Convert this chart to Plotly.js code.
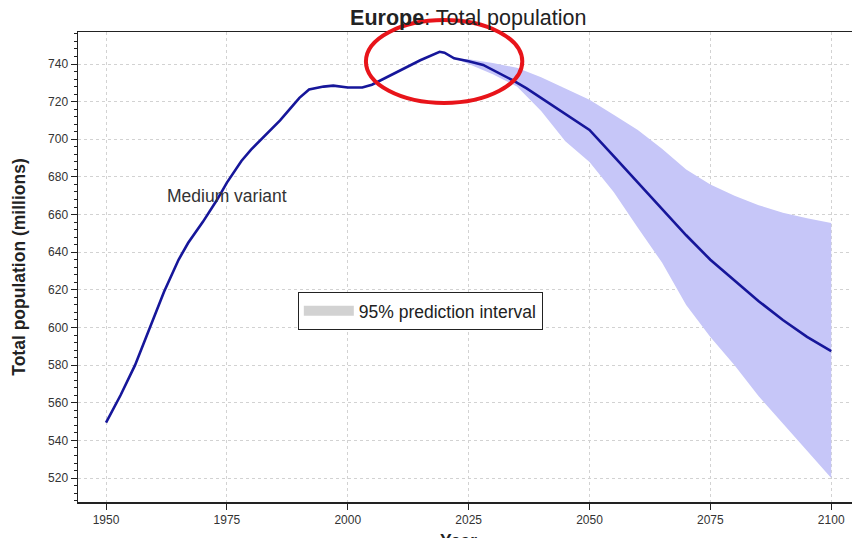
<!DOCTYPE html>
<html>
<head>
<meta charset="utf-8">
<script src="https://cdn.plot.ly/plotly-3.0.1.min.js"></script>
<style>html,body{margin:0;padding:0;background:#fff;}#chart{width:856px;height:538px;}</style>
</head>
<body>
<div id="chart"></div>
<script>
// Medium variant (millions)
const years = [1950,1953,1956,1959,1962,1965,1967,1970,1973,1975,1978,1980,1983,1986,1988,1990,1992,1995,1997,2000,2003,2005,2010,2015,2019,2020,2022,2025,2028,2031,2034,2037,2040,2045,2050,2055,2060,2065,2070,2075,2080,2085,2090,2095,2100];
const medium = [549.5,564,580,600,619,636,645,656,668,677,688.5,694.5,702,710,716,722,726.5,728,728.5,727.5,727.5,729,735.5,742,746.5,746,743,741.5,739.5,735.5,731.5,727,722,713.5,705,691,677,663,649,636,625,614,604,595,587.5];

// 95% prediction interval
const piYears = [2022,2025,2030,2035,2040,2045,2050,2055,2060,2065,2070,2075,2080,2085,2090,2095,2100];
const piUpper = [743,742.5,740.5,738,733,727,721,713,705,695,684,676,670,665,661,658,655.5];
const piLower = [743,740,734.5,728,715,699,688,672,653,634.5,612,595,580,563.5,549,534.5,520];

const xTicks = [1950,1975,2000,2025,2050,2075,2100];
const yTicks = [520,540,560,580,600,620,640,660,680,700,720,740];

const FONT = "Liberation Sans, Arial, sans-serif";
const bandColor = "rgb(198,198,248)";
const lineColor = "#16169a";

const traces = [
  {x: piYears, y: piLower, type: "scatter", mode: "lines", line: {width: 0, color: bandColor}, showlegend: false, hoverinfo: "skip"},
  {x: piYears, y: piUpper, type: "scatter", mode: "lines", line: {width: 0, color: bandColor}, fill: "tonexty", fillcolor: bandColor, showlegend: false, hoverinfo: "skip"},
  {x: years, y: medium, type: "scatter", mode: "lines", line: {width: 2.6, color: lineColor}, name: "Medium variant", showlegend: false},
  {x: [null], y: [null], type: "scatter", mode: "lines", line: {width: 10, color: "#d2d2d2"}, name: "95% prediction interval", showlegend: true}
];

const layout = {
  width: 856, height: 538,
  paper_bgcolor: "#fff", plot_bgcolor: "#fff",
  margin: {l: 78, r: 4, t: 32, b: 36},
  font: {family: FONT, size: 12, color: "#333"},
  title: {text: "<b>Europe</b>: Total population", font: {family: FONT, size: 21.5, color: "#222"}, x: 0.547, xref: "container", xanchor: "center", y: 0.968, yref: "container", yanchor: "middle"},
  xaxis: {
    range: [1944.2, 2104.3], tickvals: xTicks, ticktext: xTicks.map(String),
    showline: true, linecolor: "#222", linewidth: 1.5, mirror: true,
    ticks: "outside", ticklen: 6, tickcolor: "#222",
    showgrid: true, gridcolor: "#d2d2d2", griddash: "dot", gridwidth: 1,
    zeroline: false, tickfont: {size: 12, color: "#333"},
    automargin: false
  },
  yaxis: {
    range: [507.3, 757], tickvals: yTicks, ticktext: yTicks.map(String),
    showline: true, linecolor: "#222", linewidth: 1.5,
    ticks: "outside", ticklen: 6, tickcolor: "#222",
    minor: {dtick: 4, ticks: "outside", ticklen: 3, tickcolor: "#222", showgrid: false},
    showgrid: true, gridcolor: "#d2d2d2", griddash: "dot", gridwidth: 1,
    zeroline: false, tickfont: {size: 12, color: "#333"},
    title: {text: "<b>Total population (millions)</b>", font: {size: 17.5, color: "#222"}, standoff: 18},
    automargin: false
  },
  legend: {
    x: 0.284, y: 0.447, xanchor: "left", yanchor: "top",
    bgcolor: "#fff", bordercolor: "#222", borderwidth: 1,
    font: {size: 17.5, color: "#222"}, itemwidth: 50
  },
  annotations: [
    {x: 1975, y: 670, xref: "x", yref: "y", text: "Medium variant", showarrow: false, font: {size: 17.5, color: "#333"}},
    {x: 0.491, y: -0.058, xref: "paper", yref: "paper", xanchor: "center", yanchor: "top", text: "<b>Year</b>", showarrow: false, font: {size: 17.5, color: "#222"}}
  ],
  shapes: [
    {type: "circle", xref: "paper", yref: "paper", x0: 0.372, x1: 0.574, y0: 0.849, y1: 1.0255, line: {color: "#e8141a", width: 4}, layer: "above"}
  ]
};

Plotly.newPlot("chart", traces, layout, {displayModeBar: false, staticPlot: true});
</script>
</body>
</html>
